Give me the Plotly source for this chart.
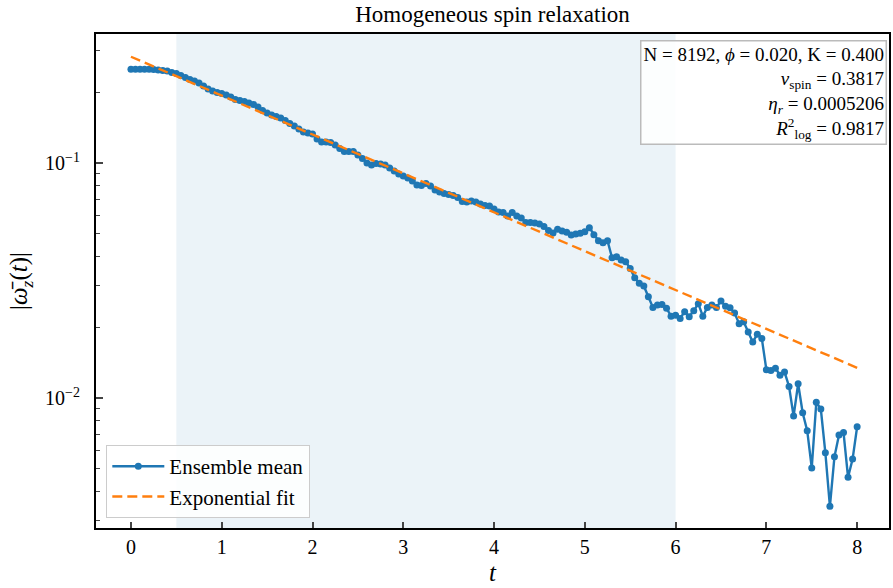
import plotly.graph_objects as go

t = [round(0.05 * i, 2) for i in range(161)]
mean_abs_wz = [
    0.2504, 0.2504, 0.2504, 0.2504, 0.2504, 0.2500, 0.2487, 0.2475, 0.2463, 0.2427,
    0.2404, 0.2357, 0.2311, 0.2266, 0.2233, 0.2190, 0.2127, 0.2065, 0.2025, 0.1995,
    0.1976, 0.1948, 0.1910, 0.1863, 0.1845, 0.1827, 0.1800, 0.1774, 0.1731, 0.1673,
    0.1632, 0.1601, 0.1577, 0.1554, 0.1517, 0.1473, 0.1437, 0.1396, 0.1355, 0.1342,
    0.1329, 0.1265, 0.1229, 0.1229, 0.1223, 0.1193, 0.1153, 0.1119, 0.1119, 0.1119,
    0.1081, 0.1045, 0.1000, 0.0981, 0.0995, 0.0990, 0.0981, 0.0952, 0.0925, 0.0898,
    0.0880, 0.0864, 0.0838, 0.0806, 0.0802, 0.0818, 0.0798, 0.0768, 0.0753, 0.0742,
    0.0735, 0.0727, 0.0713, 0.0686, 0.0682, 0.0689, 0.0682, 0.0669, 0.0659, 0.0656,
    0.0637, 0.0619, 0.0616, 0.0595, 0.0616, 0.0595, 0.0583, 0.0558, 0.0558, 0.0556,
    0.0550, 0.0537, 0.0516, 0.0504, 0.0522, 0.0514, 0.0507, 0.0494, 0.0499, 0.0502,
    0.0510, 0.0530, 0.0495, 0.0467, 0.0458, 0.0467, 0.0395, 0.0399, 0.0387, 0.0380,
    0.0356, 0.0325, 0.0308, 0.0300, 0.0270, 0.0243, 0.0249, 0.0250, 0.0241, 0.0223,
    0.0225, 0.0218, 0.0233, 0.0222, 0.0235, 0.0252, 0.0223, 0.0243, 0.0249, 0.0243,
    0.0259, 0.0246, 0.0242, 0.0230, 0.0207, 0.0211, 0.0191, 0.0173, 0.0187, 0.0179,
    0.0132, 0.0131, 0.0134, 0.0125, 0.0129, 0.0112, 0.00838, 0.0115, 0.00866, 0.00726,
    0.00504, 0.00959, 0.00898, 0.00585, 0.00346, 0.00562, 0.00696, 0.00714, 0.00460, 0.00550,
    0.00755,
]

t_fit = [0.0, 8.0]
fit_vals = [0.2833, 0.01345]

fit_window = [0.5, 6.0]

x_ticks = [0, 1, 2, 3, 4, 5, 6, 7, 8]
y_ticks = [0.01, 0.1]
y_ticktext = ["10<sup>−2</sup>", "10<sup>−1</sup>"]
y_minor = [0.003, 0.004, 0.005, 0.006, 0.007, 0.008, 0.009,
           0.02, 0.03, 0.04, 0.05, 0.06, 0.07, 0.08, 0.09, 0.2, 0.3]

info_text = ("N = 8192, <i>ϕ</i> = 0.020, K = 0.400<br>"
             "<i>ν</i><sub>spin</sub> = 0.3817<br>"
             "<i>η<sub>r</sub></i> = 0.0005206<br>"
             "<i>R</i><sup>2</sup><sub>log</sub> = 0.9817")

FONT = "Liberation Serif, Times New Roman, serif"

fig = go.Figure()
fig.add_vrect(x0=fit_window[0], x1=fit_window[1], fillcolor="rgba(31,119,180,0.09)",
              line_width=0, layer="below")
fig.add_trace(go.Scatter(x=t, y=mean_abs_wz, mode="lines+markers", name="Ensemble mean",
                         line=dict(color="#1f77b4", width=2.4),
                         marker=dict(color="#1f77b4", size=7)))
fig.add_trace(go.Scatter(x=t_fit, y=fit_vals, mode="lines", name="Exponential fit",
                         line=dict(color="#ff7f0e", width=2.4, dash="10px,5px")))

fig.add_annotation(text=info_text, xref="paper", yref="paper", x=0.997, y=0.988,
                   xanchor="right", yanchor="top", align="right", showarrow=False,
                   font=dict(family=FONT, size=19, color="black"),
                   bgcolor="rgba(255,255,255,0.85)", bordercolor="#bbbbbb",
                   borderwidth=1.5, borderpad=2)

fig.update_layout(
    width=893, height=588,
    margin=dict(l=96, r=2, t=34, b=60),
    paper_bgcolor="white", plot_bgcolor="white",
    font=dict(family=FONT, size=20, color="black"),
    title=dict(text="Homogeneous spin relaxation", x=0.5, xref="paper",
               y=1 - 14 / 588, yanchor="middle", font=dict(size=23)),
    showlegend=True,
    legend=dict(x=0.013, y=0.02, xanchor="left", yanchor="bottom",
                bgcolor="rgba(255,255,255,0.85)", bordercolor="#cccccc", borderwidth=1,
                font=dict(size=21), tracegroupgap=0, itemwidth=52),
    xaxis=dict(range=[-0.385, 8.351], tickvals=x_ticks, ticks="inside", ticklen=6,
               tickwidth=1.5, showgrid=False, zeroline=False, showline=True,
               linecolor="black", linewidth=2, mirror=True, ticklabelstandoff=0,
               title=dict(text="<i>t</i>", font=dict(size=25), standoff=6)),
    yaxis=dict(type="log", range=[-2.553, -0.451], tickvals=y_ticks, ticktext=y_ticktext,
               ticks="inside", ticklen=7, tickwidth=1.5, showgrid=False, zeroline=False,
               showline=True, linecolor="black", linewidth=2, mirror=True,
               ticklabelstandoff=10,
               minor=dict(tickvals=y_minor, ticks="inside", ticklen=4, tickwidth=1,
                          showgrid=False),
               title=dict(text="|<i>ω̄</i><sub><i>z</i></sub>(<i>t</i>)|",
                          font=dict(size=25), standoff=10)),
)

fig.write_html("out.html", config={"displayModeBar": False},
               post_script="document.body.style.margin='0';document.body.style.overflow='hidden';")
